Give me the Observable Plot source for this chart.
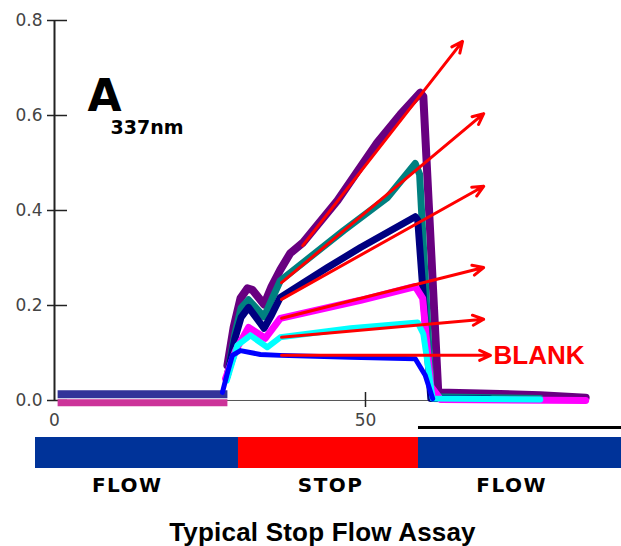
<!DOCTYPE html>
<html><head><meta charset="utf-8">
<script src="https://cdn.jsdelivr.net/npm/d3@7"></script>
<script src="https://cdn.jsdelivr.net/npm/@observablehq/plot@0.6"></script>
<style>
html,body{margin:0;padding:0;background:#fff;overflow:hidden}
svg{display:block}
#title{width:621px;box-sizing:border-box;padding-left:24px;padding-top:5px;line-height:30px;text-align:center;font:bold 26px "Liberation Sans",Arial,sans-serif;letter-spacing:0.2px;color:#000}
</style>
</head><body>
<div id="chart"></div>
<div id="bar"></div>
<div id="title">Typical Stop Flow Assay</div>
<script>
// ---- data ----
const yTicks = [0, 0.2, 0.4, 0.6, 0.8];
const xTicks = [0, 50];
const seriesNames = ["purple", "teal", "navy", "magenta", "cyan", "blue"];
const purple = [[27.8,0.074],[28.8,0.154],[29.9,0.215],[31.0,0.236],[31.8,0.233],[33.7,0.202],[34.9,0.240],[36.3,0.275],[37.9,0.310],[40.0,0.333],[45.5,0.421],[51.9,0.543],[55.6,0.602],[58.8,0.648],[59.3,0.640],[61.7,0.017],[68.5,0.015],[78.1,0.011],[85.4,0.006]];
const teal = [[27.9,0.060],[29.0,0.140],[30.0,0.195],[31.2,0.212],[33.7,0.176],[34.9,0.212],[36.3,0.252],[46.5,0.358],[53.5,0.427],[58.0,0.499],[58.7,0.476],[60.6,0.008],[70.0,0.006],[78.1,0.004]];
const navy = [[27.8,0.052],[29.0,0.130],[30.0,0.175],[31.2,0.196],[33.7,0.152],[34.9,0.180],[36.3,0.217],[43.9,0.280],[49.2,0.322],[58.0,0.387],[58.4,0.380],[60.5,0.004],[70.0,0.003]];
const magenta = [[27.5,0.046],[29.1,0.105],[31.2,0.154],[33.9,0.131],[36.3,0.173],[49.2,0.211],[58.0,0.240],[59.2,0.215],[60.5,0.030],[62.1,0.002],[85.4,0.0]];
const cyan = [[27.7,0.042],[29.4,0.116],[31.5,0.137],[34.2,0.112],[36.3,0.133],[47.6,0.152],[58.4,0.164],[59.3,0.140],[60.8,0.004],[78.1,0.002]];
const blue = [[27.0,0.017],[27.7,0.053],[28.6,0.095],[29.9,0.105],[33.1,0.097],[36.3,0.095],[47.6,0.091],[58.0,0.088],[59.6,0.053],[60.8,0.004]];
const baselineUpper = [[0.5,0.013],[27.8,0.013]];
const baselineLower = [[0.5,-0.005],[27.8,-0.005]];
const arrowStart = [[39.9,0.326],[36.5,0.248],[36.5,0.213],[36.5,0.173],[36.5,0.133],[36.5,0.095]];
const arrowEnd = [[65.6,0.756],[69.0,0.604],[69.0,0.451],[69.0,0.280],[69.0,0.171],[70.1,0.095]];
const phases = ["FLOW", "STOP", "FLOW"];
const phaseBounds = [-3.055, 29.58, 58.52, 91.16];
const phaseLabelAt = [11.7, 44.4, 73.5];

// ---- styles ----
const seriesStyle = {
  purple: {color: "#680080", width: 8},
  teal: {color: "#008080", width: 7},
  navy: {color: "#000080", width: 7},
  magenta: {color: "#ff00ff", width: 7},
  cyan: {color: "#00ffff", width: 6},
  blue: {color: "#0000ff", width: 5}
};
const seriesData = {purple, teal, navy, magenta, cyan, blue};
const xDomain = [phaseBounds[0], phaseBounds[3]];

const arrows = arrowStart.map((s, i) => ({x1: s[0], y1: s[1], x2: arrowEnd[i][0], y2: arrowEnd[i][1]}));

const lineMarks = seriesNames.map(n => Plot.line(seriesData[n], {
  x: d => d[0], y: d => d[1], stroke: seriesStyle[n].color, strokeWidth: seriesStyle[n].width
}));

const chart = Plot.plot({
  width: 621, height: 432,
  marginLeft: 35, marginRight: 0, marginTop: 0, marginBottom: 0,
  style: {fontFamily: "DejaVu Sans, Verdana, sans-serif", fontSize: "17px", color: "#333", background: "#fff"},
  x: {domain: xDomain},
  y: {domain: [-0.06737, 0.84211]},
  marks: [
    Plot.ruleY([0], {x1: 0, x2: 85.4, stroke: "#555", strokeWidth: 1}),
    Plot.ruleX([0], {y1: 0, y2: 0.8, stroke: "#222", strokeWidth: 2}),
    Plot.axisY({ticks: yTicks, tickFormat: d3.format(".1f"), anchor: "left", dx: 32, tickSize: 20, tickPadding: 5, stroke: "#222", strokeWidth: 1.5, fill: "#444"}),
    Plot.axisX({ticks: xTicks, anchor: "bottom", dy: -32, tickSize: 0, tickPadding: 13, fill: "#444"}),
    Plot.ruleX([50], {y1: 0, y2: 0, insetTop: -8, insetBottom: -7, stroke: "#222", strokeWidth: 1.5}),
    Plot.line(baselineUpper, {x: d => d[0], y: d => d[1], stroke: "#333399", strokeWidth: 8, strokeLinecap: "butt"}),
    Plot.line(baselineLower, {x: d => d[0], y: d => d[1], stroke: "#cc3399", strokeWidth: 7, strokeLinecap: "butt"}),
    ...lineMarks,
    Plot.arrow(arrows, {x1: "x1", y1: "y1", x2: "x2", y2: "y2", stroke: "#ff0000", strokeWidth: 3, headLength: 6, headAngle: 50}),
    Plot.text([arrowEnd[5]], {x: d => d[0], y: d => d[1], text: ["BLANK"], textAnchor: "start", dx: 3, fill: "#ff0000", fontSize: 26, fontWeight: "bold", fontFamily: "Liberation Sans, Arial, sans-serif"}),
    Plot.text(["A"], {frameAnchor: "top-left", text: d => d, dx: 52, dy: 79, textAnchor: "start", fontSize: 44, fontWeight: "bold", fill: "#000"}),
    Plot.text(["337nm"], {frameAnchor: "top-left", text: d => d, dx: 75, dy: 120, textAnchor: "start", fontSize: 19, fontWeight: "bold", fill: "#000"}),
    Plot.ruleY([0], {x1: phaseBounds[2], x2: phaseBounds[3], dy: 27, stroke: "#000", strokeWidth: 3})
  ]
});
document.getElementById("chart").appendChild(chart);

const phaseRows = phases.map((p, i) => ({phase: p, start: phaseBounds[i], end: phaseBounds[i + 1], labelAt: phaseLabelAt[i]}));
const bar = Plot.plot({
  width: 621, height: 80,
  marginLeft: 35, marginRight: 0, marginTop: 5, marginBottom: 44,
  style: {fontFamily: "DejaVu Sans, Verdana, sans-serif", letterSpacing: "1.5px", background: "#fff"},
  x: {domain: xDomain, axis: null},
  y: {axis: null},
  color: {domain: ["FLOW", "STOP"], range: ["#003399", "#ff0000"]},
  marks: [
    Plot.rect(phaseRows, {x1: "start", x2: "end", fill: "phase"}),
    Plot.text(phaseRows, {x: "labelAt", text: "phase", frameAnchor: "bottom", dy: 23, fontSize: 20, fontWeight: "bold", fill: "#000"})
  ]
});
document.getElementById("bar").appendChild(bar);
</script>
</body></html>
